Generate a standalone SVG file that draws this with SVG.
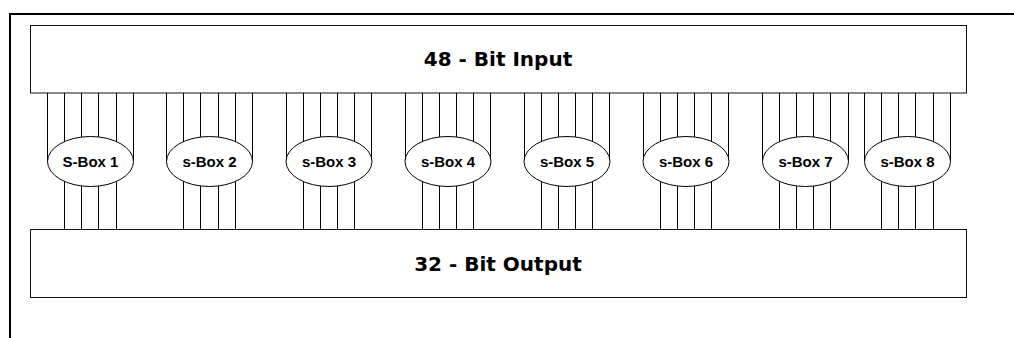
<svg xmlns="http://www.w3.org/2000/svg" width="1014" height="338" viewBox="0 0 1014 338">
  <style>
    .frame { fill: none; stroke: #000; stroke-width: 2; }
    .box { fill: #fff; stroke: #111; stroke-width: 1; }
    .wire { stroke: #000; stroke-width: 1; fill: none; }
    .sbox { fill: #fff; stroke: #000; stroke-width: 1; }
    .big { font-family: "DejaVu Sans", Verdana, sans-serif; font-weight: bold; font-size: 20px; fill: #000; text-anchor: middle; }
    .lbl { font-family: "Liberation Sans", Arial, sans-serif; font-weight: bold; font-size: 15px; fill: #000; text-anchor: middle; }
  </style>
  <rect x="0" y="0" width="1014" height="338" fill="#fff"/>
  <path class="frame" d="M10,338 V14 H1014"/>

  <g id="input">
    <rect class="box" x="30.5" y="25.5" width="936" height="67.5"/>
    <text class="big" x="498" y="66">48 - Bit Input</text>
  </g>
  <g id="output">
    <rect class="box" x="30.5" y="229.5" width="936" height="68"/>
    <text class="big" x="498" y="271">32 - Bit Output</text>
  </g>

  <g id="connectors">
    <!-- inputs to S-Box 1 -->
    <path class="wire" d="M47.5,93V161.5M64.5,93V161.5M81.5,93V161.5M98.5,93V161.5M116.5,93V161.5M133.5,93V161.5"/>
    <path class="wire" d="M64.5,161.5V229.5M81.5,161.5V229.5M98.5,161.5V229.5M116.5,161.5V229.5"/>
    <!-- S-Box 2 -->
    <path class="wire" d="M166.5,93V161.5M183.5,93V161.5M200.5,93V161.5M218.5,93V161.5M235.5,93V161.5M252.5,93V161.5"/>
    <path class="wire" d="M183.5,161.5V229.5M200.5,161.5V229.5M218.5,161.5V229.5M235.5,161.5V229.5"/>
    <!-- S-Box 3 -->
    <path class="wire" d="M286.5,93V161.5M303.5,93V161.5M320.5,93V161.5M337.5,93V161.5M354.5,93V161.5M371.5,93V161.5"/>
    <path class="wire" d="M303.5,161.5V229.5M320.5,161.5V229.5M337.5,161.5V229.5M354.5,161.5V229.5"/>
    <!-- S-Box 4 -->
    <path class="wire" d="M405.5,93V161.5M422.5,93V161.5M439.5,93V161.5M456.5,93V161.5M473.5,93V161.5M490.5,93V161.5"/>
    <path class="wire" d="M422.5,161.5V229.5M439.5,161.5V229.5M456.5,161.5V229.5M473.5,161.5V229.5"/>
    <!-- S-Box 5 -->
    <path class="wire" d="M524.5,93V161.5M541.5,93V161.5M558.5,93V161.5M575.5,93V161.5M592.5,93V161.5M609.5,93V161.5"/>
    <path class="wire" d="M541.5,161.5V229.5M558.5,161.5V229.5M575.5,161.5V229.5M592.5,161.5V229.5"/>
    <!-- S-Box 6 -->
    <path class="wire" d="M643.5,93V161.5M660.5,93V161.5M677.5,93V161.5M694.5,93V161.5M711.5,93V161.5M728.5,93V161.5"/>
    <path class="wire" d="M660.5,161.5V229.5M677.5,161.5V229.5M694.5,161.5V229.5M711.5,161.5V229.5"/>
    <!-- S-Box 7 -->
    <path class="wire" d="M762.5,93V161.5M779.5,93V161.5M796.5,93V161.5M813.5,93V161.5M830.5,93V161.5M848.5,93V161.5"/>
    <path class="wire" d="M779.5,161.5V229.5M796.5,161.5V229.5M813.5,161.5V229.5M830.5,161.5V229.5"/>
    <!-- S-Box 8 -->
    <path class="wire" d="M864.5,93V161.5M881.5,93V161.5M898.5,93V161.5M915.5,93V161.5M933.5,93V161.5M950.5,93V161.5"/>
    <path class="wire" d="M881.5,161.5V229.5M898.5,161.5V229.5M915.5,161.5V229.5M933.5,161.5V229.5"/>
  </g>

  <g id="sbox1"><ellipse class="sbox" cx="90.5" cy="161.5" rx="43" ry="25"/><text class="lbl" x="90.5" y="166.5">S-Box 1</text></g>
  <g id="sbox2"><ellipse class="sbox" cx="209.5" cy="161.5" rx="43" ry="25"/><text class="lbl" x="209.5" y="166.5">s-Box 2</text></g>
  <g id="sbox3"><ellipse class="sbox" cx="329" cy="161.5" rx="43" ry="25"/><text class="lbl" x="329" y="166.5">s-Box 3</text></g>
  <g id="sbox4"><ellipse class="sbox" cx="448" cy="161.5" rx="43" ry="25"/><text class="lbl" x="448" y="166.5">s-Box 4</text></g>
  <g id="sbox5"><ellipse class="sbox" cx="567" cy="161.5" rx="43" ry="25"/><text class="lbl" x="567" y="166.5">s-Box 5</text></g>
  <g id="sbox6"><ellipse class="sbox" cx="686" cy="161.5" rx="43" ry="25"/><text class="lbl" x="686" y="166.5">s-Box 6</text></g>
  <g id="sbox7"><ellipse class="sbox" cx="805.5" cy="161.5" rx="43" ry="25"/><text class="lbl" x="805.5" y="166.5">s-Box 7</text></g>
  <g id="sbox8"><ellipse class="sbox" cx="907.5" cy="161.5" rx="43" ry="25"/><text class="lbl" x="907.5" y="166.5">s-Box 8</text></g>
</svg>
